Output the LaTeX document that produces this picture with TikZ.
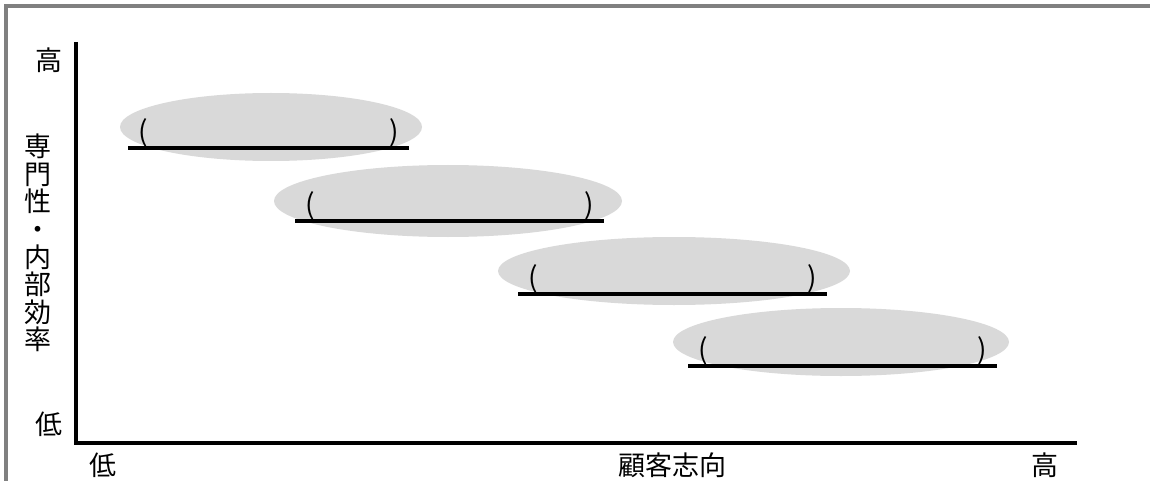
\documentclass[tikz,border=0pt]{standalone}
\usepackage{fontspec}
\setmainfont{Noto Sans CJK JP}
\usetikzlibrary{shapes.geometric}
\begin{document}
\begin{tikzpicture}[x=1pt,y=-1pt,
 blob/.style={ellipse,fill=gray!30,inner sep=0pt},
 bar/.style={line width=4pt},
 paren/.style={font=\fontsize{28}{28}\selectfont,inner sep=0pt,anchor=south},
 axislabel/.style={font=\fontsize{27}{27.6}\selectfont,inner sep=0pt,align=center}]
\useasboundingbox (0,0) rectangle (1150,481);
\draw[gray,line width=4pt] (6,481) -- (6,6) -- (1150,6);

\coordinate (o) at (76,443);
\coordinate (ytop) at (76,42);
\coordinate (xend) at (1077,443);
\draw[bar] (ytop) -- (o) -- (xend);

\node[axislabel] (yhi) at (49,60) {高};
\node[axislabel] (ylo) at (49,424) {低};
\node[axislabel] (yname) at (38,243) {専\\門\\性\\・\\内\\部\\効\\率};
\node[axislabel] (xlo) at (103,465) {低};
\node[axislabel] (xname) at (672,465) {顧客志向};
\node[axislabel] (xhi) at (1045,465) {高};

\foreach \i/\cx/\cy/\w/\h/\l/\r/\ly in {1/271/127/302/68/128/409/148,
 2/448/201/348/72/295/604/221, 3/674/271/352/68/518/827/294,
 4/841/342/336/68/688/997/366}
{\node[blob,minimum width=\w,minimum height=\h] (e\i) at (\cx,\cy) {};
\coordinate (a\i) at (\l,\ly);
\coordinate (b\i) at (\r,\ly);
\draw[bar] (a\i) -- (b\i);
\node[paren] (pl\i) at ([xshift=15pt,yshift=1pt]a\i) {(};
\node[paren] (pr\i) at ([xshift=-15pt,yshift=1pt]b\i) {)};
}
\end{tikzpicture}
\end{document}
